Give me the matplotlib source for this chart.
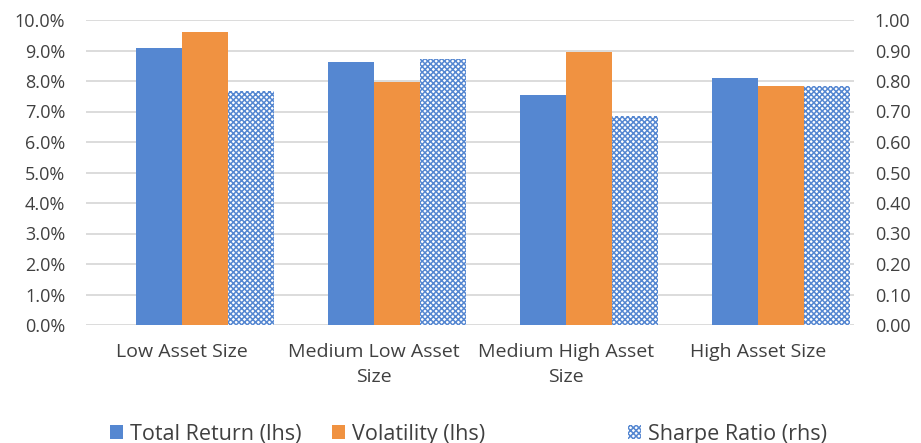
import matplotlib
matplotlib.use("Agg")
import matplotlib.pyplot as plt
import numpy as np
from matplotlib.patches import Patch

plt.rcParams['font.family'] = ['Open Sans', 'DejaVu Sans']
plt.rcParams['hatch.linewidth'] = 1.1

categories = ["Low Asset Size", "Medium Low Asset\nSize", "Medium High Asset\nSize", "High Asset Size"]
total_return = [9.07, 8.62, 7.53, 8.10]
volatility = [9.60, 7.97, 8.95, 7.82]
sharpe = [0.767, 0.872, 0.686, 0.783]
left_ticks = [0, 1, 2, 3, 4, 5, 6, 7, 8, 9, 10]
right_ticks = [0.0, 0.1, 0.2, 0.3, 0.4, 0.5, 0.6, 0.7, 0.8, 0.9, 1.0]

blue = '#5587D1'
orange = '#F09241'
text_c = '#404040'
grid_c = '#D9D9D9'

fig = plt.figure(figsize=(9.21, 4.43), dpi=100)
ax = fig.add_axes([86/921, 1 - 325/443, (854 - 86)/921, (325 - 20)/443])
ax2 = ax.twinx()

x = np.arange(len(categories))
w = 0.24
ax.bar(x - w / 2, total_return, w, color=blue, zorder=3)
ax.bar(x + w / 2, volatility, w, color=orange, zorder=3)
ax2.bar(x + 1.5 * w, sharpe, w, facecolor='white', edgecolor=blue, hatch='xxxxxx', linewidth=0, zorder=3)

ax.set_xlim(-0.5, 3.5)
ax.set_ylim(0, 10)
ax2.set_ylim(0, 1.0)
ax.set_yticks(left_ticks)
ax.set_yticklabels([f"{v:.1f}%" for v in left_ticks])
ax2.set_yticks(right_ticks)
ax2.set_yticklabels([f"{v:.2f}" for v in right_ticks])
ax.set_xticks(x)
ax.set_xticklabels(categories, linespacing=1.5)

ax.yaxis.grid(True, color=grid_c, linewidth=1.3, zorder=0)
ax.set_axisbelow(True)
for a in (ax, ax2):
    for s in a.spines.values():
        s.set_visible(False)
    a.tick_params(length=0, labelsize=13, colors=text_c)
ax.tick_params(axis='y', pad=15)
ax2.tick_params(axis='y', pad=15)
ax.tick_params(axis='x', pad=13, labelsize=14)

handles = [Patch(facecolor=blue), Patch(facecolor=orange),
           Patch(facecolor='white', edgecolor=blue, hatch='xxxxxx', linewidth=0)]
labels = ["Total Return (lhs)", "Volatility (lhs)", "Sharpe Ratio (rhs)"]
xs = [110, 332, 628]
for h, l, xp in zip(handles, labels, xs):
    leg = fig.legend([h], [l], loc='center left', bbox_to_anchor=(xp / 921, 0.02),
                     frameon=False, fontsize=15.5, handlelength=0.6, handleheight=0.6,
                     handletextpad=0.35, borderpad=0, borderaxespad=0)
    for t in leg.get_texts():
        t.set_color(text_c)

fig.savefig("out.png", dpi=100)
